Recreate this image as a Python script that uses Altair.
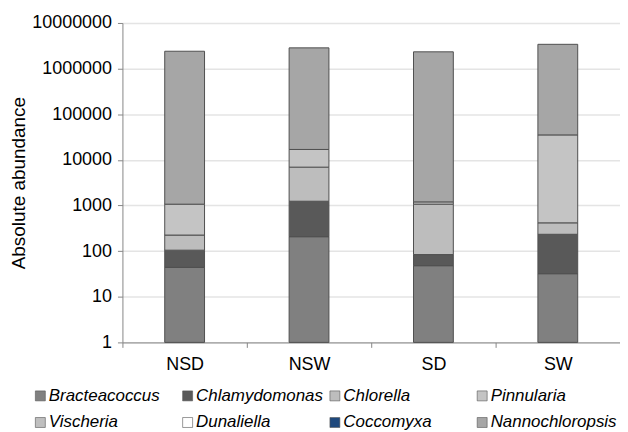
import altair as alt
import pandas as pd

sites = ["NSD", "NSW", "SD", "SW"]
genera = ["Bracteacoccus", "Chlamydomonas", "Chlorella", "Pinnularia",
          "Vischeria", "Dunaliella", "Coccomyxa", "Nannochloropsis"]

bracteacoccus = [44, 207, 48, 32]
chlamydomonas = [61, 1033, 36, 202]
chlorella = [120, 5690, 986, 183]
pinnularia = [845, 9970, 130, 34800]
vischeria = [0, 0, 0, 0]
dunaliella = [0, 0, 0, 0]
coccomyxa = [0, 0, 0, 0]
nannochloropsis = [2400000, 2830000, 2330000, 3370000]

series = [bracteacoccus, chlamydomonas, chlorella, pinnularia,
          vischeria, dunaliella, coccomyxa, nannochloropsis]

colors = ["#808080", "#595959", "#bdbdbd", "#c4c4c4",
          "#bfbfbf", "#ffffff", "#1f497d", "#a6a6a6"]

y_ticks = [1, 10, 100, 1000, 10000, 100000, 1000000, 10000000]

rows = []
for i, site in enumerate(sites):
    cum = 0.0
    for g, vals in zip(genera, series):
        v = vals[i]
        if v <= 0:
            continue
        lo = max(cum, 1)
        cum += v
        rows.append({"site": site, "genus": g, "value": v, "lo": lo, "hi": cum})
df = pd.DataFrame(rows)

FONT = "Liberation Sans"

chart = alt.Chart(df).mark_bar(size=40, stroke="#505050", strokeWidth=1).encode(
    x=alt.X("site:N", sort=sites,
            scale=alt.Scale(paddingInner=0, paddingOuter=0),
            axis=alt.Axis(title="", labelAngle=0, labelFontSize=18, labelColor="#000000",
                          labelFont=FONT, labelPadding=8, tickBand="extent",
                          tickSize=5, tickColor="#868686", domainColor="#868686",
                          grid=False)),
    y=alt.Y("hi:Q",
            scale=alt.Scale(type="log", domain=[1, 10000000], nice=False),
            axis=alt.Axis(values=y_ticks, format="d", title="Absolute abundance",
                          titleFont=FONT, titleFontSize=19, titleFontWeight="normal",
                          titleColor="#000000", titlePadding=3,
                          labelFont=FONT, labelFontSize=18, labelColor="#000000",
                          labelPadding=6, tickSize=5, tickColor="#868686",
                          domainColor="#868686", grid=True, gridColor="#e4e4e4",
                          gridWidth=1.5)),
    y2="lo:Q",
    color=alt.Color("genus:N",
                    scale=alt.Scale(domain=genera, range=colors),
                    legend=alt.Legend(title="", orient="none", legendX=-91, legendY=366,
                                      direction="horizontal",
                                      columns=4, gridAlign="all", columnPadding=3,
                                      rowPadding=9, symbolType="square", symbolSize=100,
                                      symbolStrokeColor="#555555", symbolStrokeWidth=0.6,
                                      labelFont=FONT, labelFontSize=17,
                                      labelFontStyle="italic", labelColor="#000000",
                                      labelOffset=0, labelLimit=200)),
    order=alt.Order("lo:Q"),
).properties(
    width=500,
    height=321,
    autosize=alt.AutoSizeParams(type="none"),
    padding={"left": 115, "top": 14, "right": 0, "bottom": 88},
).configure_view(stroke=None)

chart.save("out.html", embed_options={"renderer": "svg", "actions": False})
